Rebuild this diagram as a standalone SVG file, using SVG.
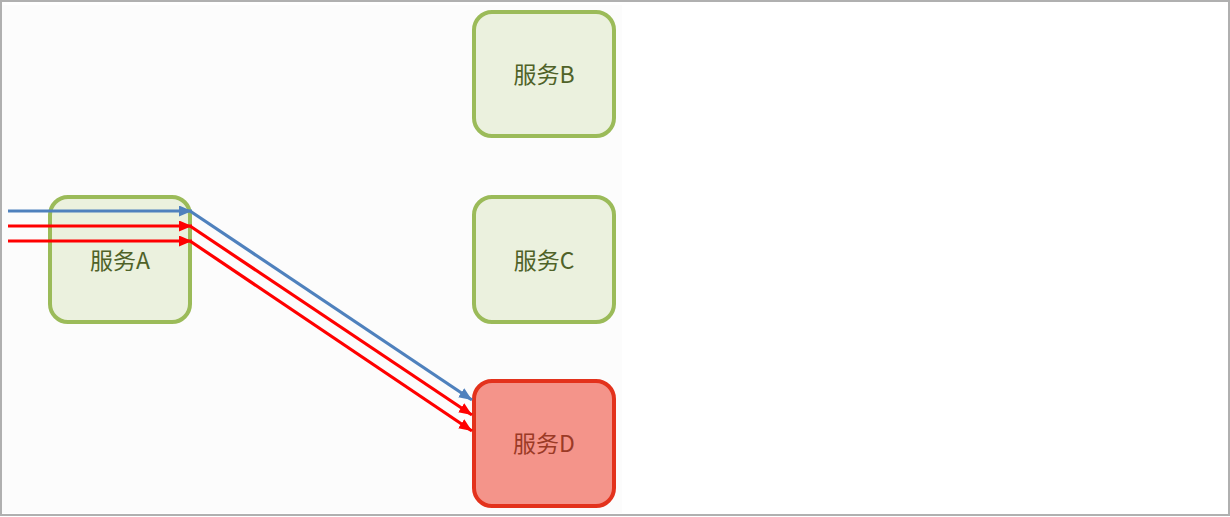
<svg xmlns="http://www.w3.org/2000/svg" width="1230" height="517" viewBox="0 0 1230 517">
<style>
.node rect{stroke-width:4}
.ok rect{fill:#ebf1de;stroke:#9bbb59}
.bad rect{fill:#f4948a;stroke:#e3321c}
.node text{font-family:"Noto Sans CJK SC","Noto Sans",sans-serif;font-size:23px;text-anchor:middle;dominant-baseline:central}
.ok text{fill:#4f6228}
.bad text{fill:#9b3a26}
.blue{stroke:#4f81bd;stroke-width:3.2;fill:none}
.red{stroke:#ff0000;stroke-width:3.2;fill:none}
</style>
<defs>
<marker id="ab" viewBox="0 0 13 11" refX="13" refY="5.5" markerWidth="13" markerHeight="11" markerUnits="userSpaceOnUse" orient="auto"><path d="M0,0L13,5.5L0,11z" fill="#4f81bd"/></marker>
<marker id="ar" viewBox="0 0 13 11" refX="13" refY="5.5" markerWidth="13" markerHeight="11" markerUnits="userSpaceOnUse" orient="auto"><path d="M0,0L13,5.5L0,11z" fill="#ff0000"/></marker>
</defs>
<rect x="0" y="0" width="1230" height="517" fill="#ffffff"/>
<rect x="2" y="5" width="620" height="508" fill="#fcfcfc"/>
<rect x="1" y="1" width="1228" height="514" fill="none" stroke="#b0b0b0" stroke-width="2"/>
<g id="nodeA" class="node ok"><rect x="50" y="197" width="140" height="125" rx="18"/><text x="120" y="259">服务A</text></g>
<g id="nodeB" class="node ok"><rect x="474" y="12" width="140" height="124" rx="18"/><text x="544" y="73">服务B</text></g>
<g id="nodeC" class="node ok"><rect x="474" y="197" width="140" height="125" rx="18"/><text x="544" y="259">服务C</text></g>
<g id="nodeD" class="node bad"><rect x="474" y="381" width="140" height="125" rx="18"/><text x="544" y="442">服务D</text></g>
<g id="connectors">
<path class="blue" d="M8,211H192" marker-end="url(#ab)"/>
<path class="red" d="M8,226H192" marker-end="url(#ar)"/>
<path class="red" d="M8,241H192" marker-end="url(#ar)"/>
<path class="blue" d="M190,211L472,400" marker-end="url(#ab)"/>
<path class="red" d="M190,226L472,415" marker-end="url(#ar)"/>
<path class="red" d="M190,241L472,431" marker-end="url(#ar)"/>
</g>
</svg>
